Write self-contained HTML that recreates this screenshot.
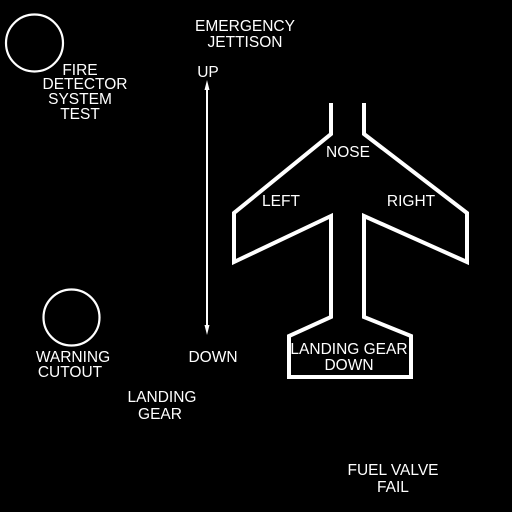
<!DOCTYPE html>
<html><head><meta charset="utf-8"><style>
html,body{margin:0;padding:0;background:#000;}
svg{display:block}
text{font-family:"Liberation Sans",sans-serif;font-size:15.5px;fill:#fff;text-anchor:middle;}
</style></head><body>
<svg width="512" height="512" viewBox="0 0 512 512">
<rect width="512" height="512" fill="#000"/>
<circle cx="34.5" cy="43" r="28.5" fill="none" stroke="#fff" stroke-width="2.2"/>
<g>
<text x="80" y="75">FIRE</text><text x="85" y="89">DETECTOR</text><text x="80" y="104">SYSTEM</text><text x="80" y="119">TEST</text></g>
<g>
<text x="245" y="31">EMERGENCY</text><text x="245" y="47">JETTISON</text></g>
<text x="208" y="77">UP</text>
<g>
<line x1="207" y1="88" x2="207" y2="327" stroke="#fff" stroke-width="2"/>
<polygon points="207,80 204.5,90 209.5,90" fill="#fff"/>
<polygon points="207,335 204.5,325 209.5,325" fill="#fff"/>
</g>
<text x="213" y="362">DOWN</text>
<polyline fill="none" stroke="#fff" stroke-width="4" stroke-linejoin="miter"
points="331,103 331,134 234,213 234,262 331,216 331,317 289,336 289,377 411,377 411,336 364,317 364,216 467,262 467,213 364,134 364,103"/>
<text x="348" y="157">NOSE</text>
<text x="281" y="206">LEFT</text>
<text x="411" y="206">RIGHT</text>
<g>
<text x="349" y="354">LANDING GEAR</text><text x="349" y="370">DOWN</text></g>
<circle cx="71.5" cy="317.5" r="28" fill="none" stroke="#fff" stroke-width="2.2"/>
<g>
<text x="73" y="362">WARNING</text><text x="70" y="377">CUTOUT</text></g>
<g>
<text x="162" y="402">LANDING</text><text x="160" y="419">GEAR</text></g>
<g>
<text x="393" y="475">FUEL VALVE</text><text x="393" y="492">FAIL</text></g>
</svg>
</body></html>
